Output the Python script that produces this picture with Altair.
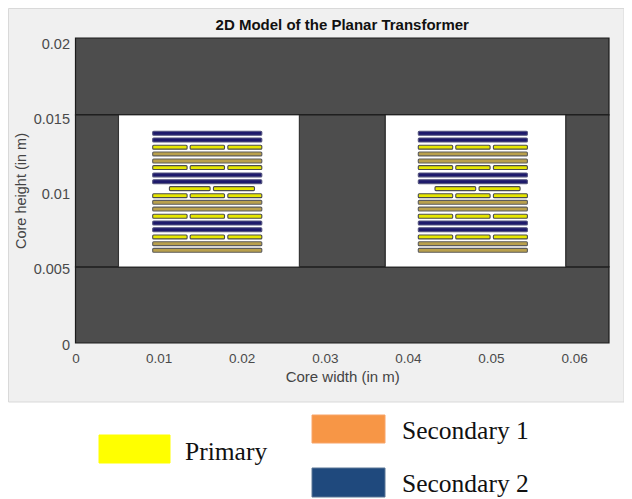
import altair as alt
import pandas as pd

# all values (metres)
x_max = 0.0642
y_max = 0.02033
x_ticks = [0, 0.01, 0.02, 0.03, 0.04, 0.05, 0.06]
y_ticks = [0, 0.005, 0.01, 0.015, 0.02]

core_x1 = [0, 0, 0, 0.02693, 0.05898]
core_x2 = [0.0642, 0.0642, 0.00518, 0.03729, 0.0642]
core_y1 = [0, 0.0152, 0.00507, 0.00507, 0.00507]
core_y2 = [0.00507, 0.02033, 0.0152, 0.0152, 0.0152]

window_x1 = [0.00518, 0.03729]
window_x2 = [0.02693, 0.05898]
window_y1 = [0.00507, 0.00507]
window_y2 = [0.0152, 0.0152]

window_shift = [0, 0.03196]
row_y = [0.01398, 0.01353, 0.01305, 0.0126, 0.01213, 0.01169, 0.0112, 0.01075, 0.01029,
         0.00982, 0.00938, 0.00893, 0.00845, 0.008, 0.00755, 0.00707, 0.00662, 0.00618]
row_type = ["S2", "S2", "P3", "S1", "S1", "P3", "S2", "S2", "P2",
            "P3", "S1", "S1", "P3", "S2", "S2", "P3", "S1", "S1"]
half_thick = 0.00013
segments = {
    "S1": [(0.00929, 0.02242)],
    "S2": [(0.00929, 0.02242)],
    "P3": [(0.00929, 0.01343), (0.01380, 0.01793), (0.01833, 0.02242)],
    "P2": [(0.0113, 0.0162), (0.0166, 0.02154)],
}
fills = {"S1": "#b9a04c", "S2": "#1e1a6c", "P3": "#e6e600", "P2": "#e6e600"}
strokes = {"S1": "#5c5c5c", "S2": "#55557f", "P3": "#4c4c4c", "P2": "#4c4c4c"}

rows = []
for shift in window_shift:
    for y, t in zip(row_y, row_type):
        for a, b in segments[t]:
            rows.append(dict(x1=a + shift, x2=b + shift, y1=y - half_thick, y2=y + half_thick,
                             fill=fills[t], stroke=strokes[t]))
windings = pd.DataFrame(rows)
core = pd.DataFrame(dict(x1=core_x1, x2=core_x2, y1=core_y1, y2=core_y2))
windows = pd.DataFrame(dict(x1=window_x1, x2=window_x2, y1=window_y1, y2=window_y2))

W, H = 533.5, 305
left, top = 67.5, 30
right_pad, bottom_pad = 15, 156

x_scale = alt.Scale(domain=[0, x_max], nice=False, zero=False)
y_scale = alt.Scale(domain=[0, y_max], nice=False, zero=False)
font = "Liberation Sans"
x_enc = alt.X("x1:Q", scale=x_scale, axis=alt.Axis(
    values=x_ticks, format="~g", title="Core width (in m)", grid=False, domain=False, ticks=False,
    labelFont=font, labelFontSize=13.5, labelColor="#4a4a4a", labelPadding=8, labelFlush=False,
    titleFont=font, titleFontSize=15, titleFontWeight="normal", titleColor="#444444", titlePadding=5,
    zindex=1))
y_enc = alt.Y("y1:Q", scale=y_scale, axis=alt.Axis(
    values=y_ticks, format="~g", title="Core height (in m)", grid=False, domain=False, ticks=False,
    labelFont=font, labelFontSize=14.5, labelColor="#4a4a4a", labelPadding=6, labelOffset=2, labelFlush=False,
    titleFont=font, titleFontSize=14.5, titleFontWeight="normal", titleColor="#444444", titlePadding=5,
    zindex=1))

# figure panel behind the axes
panel = alt.Chart(pd.DataFrame({"p": [0]})).mark_rect(fill="#f0f0f0", stroke="#d9d9d9", strokeWidth=1).encode(
    x=alt.value(-left + 0.5), x2=alt.value(W + right_pad), y=alt.value(-top + 0.5), y2=alt.value(364))
plot_bg = alt.Chart(pd.DataFrame({"p": [0]})).mark_rect(fill="#ffffff").encode(
    x=alt.value(0), x2=alt.value(W), y=alt.value(0), y2=alt.value(H))

core_l = alt.Chart(core).mark_rect(fill="#4d4d4d", stroke="#1c1c1c", strokeWidth=1.2).encode(
    x=x_enc, x2="x2:Q", y=y_enc, y2="y2:Q")
win_l = alt.Chart(windows).mark_rect(fill="#ffffff", stroke="#1c1c1c", strokeWidth=0.8).encode(
    x=alt.X("x1:Q", scale=x_scale), x2="x2:Q", y=alt.Y("y1:Q", scale=y_scale), y2="y2:Q")
wind_l = alt.Chart(windings).mark_rect(strokeWidth=1.1, cornerRadius=1).encode(
    x=alt.X("x1:Q", scale=x_scale), x2="x2:Q", y=alt.Y("y1:Q", scale=y_scale), y2="y2:Q",
    fill=alt.Fill("fill:N", scale=None), stroke=alt.Stroke("stroke:N", scale=None))

title_l = alt.Chart(pd.DataFrame({"t": ["2D Model of the Planar Transformer"]})).mark_text(
    font=font, fontSize=15, fontWeight="bold", color="#111111", align="center", baseline="middle").encode(
    x=alt.value(W / 2), y=alt.value(-13), text="t:N")

# key below the figure, in page pixels relative to the plot origin
legend_names = ["Primary", "Secondary 1", "Secondary 2"]
legend_fill = ["#ffff00", "#f79646", "#1f497d"]
legend_stroke = ["#ffff00", "#f8a468", "#5b7796"]
box_x = [99, 312, 312]
box_x2 = [170, 385, 385]
box_y = [435, 415, 468]
box_y2 = [463, 443, 497]
text_x = [185, 402, 402]
text_y = [452, 431, 484]
layers = [panel, plot_bg, core_l, win_l, wind_l, title_l]
ox, oy = left + 8, top + 8
for i, name in enumerate(legend_names):
    layers.append(alt.Chart(pd.DataFrame({"name": [name]})).mark_rect(
        fill=legend_fill[i], stroke=legend_stroke[i], strokeWidth=1).encode(
        x=alt.value(box_x[i] - ox), x2=alt.value(box_x2[i] - ox),
        y=alt.value(box_y[i] - oy), y2=alt.value(box_y2[i] - oy)))
    layers.append(alt.Chart(pd.DataFrame({"name": [name]})).mark_text(
        font="Liberation Serif", fontSize=25.5, align="left", baseline="middle", color="#111111").encode(
        x=alt.value(text_x[i] - ox), y=alt.value(text_y[i] - oy), text="name:N"))

chart = alt.layer(*layers).properties(
    width=W, height=H,
    padding={"left": left, "top": top, "right": right_pad, "bottom": bottom_pad},
    autosize=alt.AutoSizeParams(type="none"),
    background="#ffffff",
).configure_view(stroke=None)

chart.save("out.html", embed_options={"renderer": "svg", "actions": False})
